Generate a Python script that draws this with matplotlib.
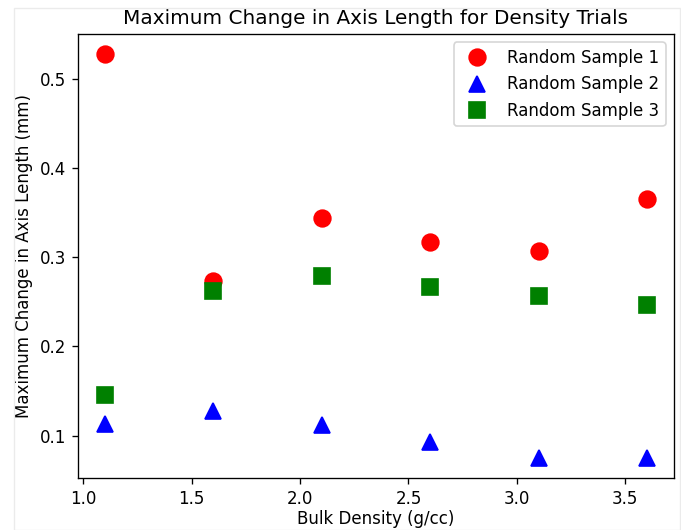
import matplotlib
matplotlib.use("Agg")
import matplotlib.pyplot as plt
from matplotlib.patches import Rectangle

density = [1.1, 1.6, 2.1, 2.6, 3.1, 3.6]
sample1 = [0.528, 0.273, 0.344, 0.317, 0.307, 0.365]
sample2 = [0.113, 0.127, 0.112, 0.093, 0.075, 0.075]
sample3 = [0.145, 0.262, 0.279, 0.267, 0.257, 0.246]
labels = ["Random Sample 1", "Random Sample 2", "Random Sample 3"]

fig = plt.figure(figsize=(681 / 120, 530 / 120), dpi=120)
fig.patches.append(Rectangle((14 / 681, 0.5 / 530), 666 / 681, 522 / 530,
                             transform=fig.transFigure, fill=False,
                             edgecolor="#ebebeb", linewidth=0.8))
ax = fig.add_axes([0.1145, 0.0981, 0.8752, 0.8377])
ax.plot(density, sample1, "o", color="red", markersize=10, label=labels[0])
ax.plot(density, sample2, "^", color="blue", markersize=10, label=labels[1])
ax.plot(density, sample3, "s", color="green", markersize=10, label=labels[2])
ax.set_title("Maximum Change in Axis Length for Density Trials", fontsize=12)
ax.set_xlabel("Bulk Density (g/cc)", labelpad=1.5)
ax.set_ylabel("Maximum Change in Axis Length (mm)")
ax.legend(loc="upper right")
fig.savefig("out.png", dpi=120)
